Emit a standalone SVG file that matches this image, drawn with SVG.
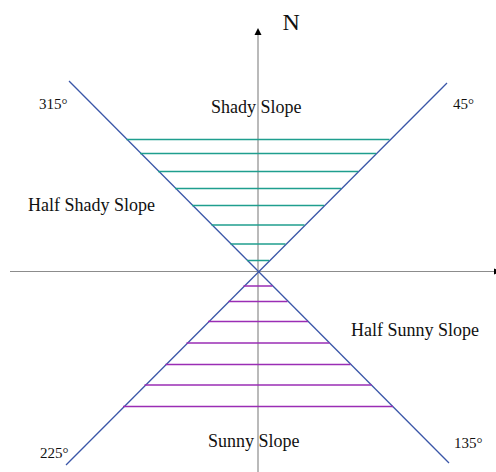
<svg xmlns="http://www.w3.org/2000/svg" width="496" height="472" viewBox="0 0 496 472">
<style>
.axis{stroke:#8c8c8c;stroke-width:1.2;fill:none}
.edge{stroke:#3a56a8;stroke-width:1.3;fill:none}
.shady line{stroke:#1f9e8e;stroke-width:1.5}
.sunny line{stroke:#9a2db5;stroke-width:1.5}
text{font-family:"Liberation Serif","Times New Roman",serif;fill:#111}
.lbl{font-size:18px}
.deg{font-size:15px}
</style>
<rect width="496" height="472" fill="#fff"/>
<g id="connectors">
<line class="axis" x1="258" y1="33" x2="258" y2="472"/>
<polygon points="258,28 254.5,35 261.5,35" fill="#000"/>
<line class="axis" x1="10" y1="271.5" x2="494" y2="271.5"/>
<polygon points="494,268.5 494,274.5 502,271.5" fill="#000"/>
<line class="edge" x1="69" y1="81" x2="449" y2="463"/>
<line class="edge" x1="447" y1="83" x2="66" y2="465"/>
</g>
<g id="shady-hatch" class="shady">
<line x1="126.5" y1="139.5" x2="389.5" y2="139.5"/>
<line x1="140" y1="153.5" x2="376" y2="153.5"/>
<line x1="158" y1="171.5" x2="358" y2="171.5"/>
<line x1="175" y1="188.5" x2="341" y2="188.5"/>
<line x1="192" y1="205.5" x2="324" y2="205.5"/>
<line x1="211.5" y1="225" x2="304.5" y2="225"/>
<line x1="230.5" y1="244" x2="285.5" y2="244"/>
<line x1="247" y1="260.5" x2="269" y2="260.5"/>
</g>
<g id="sunny-hatch" class="sunny">
<line x1="243.5" y1="286" x2="272.5" y2="286"/>
<line x1="228.5" y1="301.5" x2="287.5" y2="301.5"/>
<line x1="208" y1="321.5" x2="308" y2="321.5"/>
<line x1="186.5" y1="343" x2="329.5" y2="343"/>
<line x1="165.5" y1="364.5" x2="350.5" y2="364.5"/>
<line x1="144.5" y1="385" x2="371.5" y2="385"/>
<line x1="123" y1="406.5" x2="393" y2="406.5"/>
</g>
<g id="north"><text x="282.5" y="29.5" style="font-size:24px">N</text></g>
<g id="shady"><text class="lbl" x="211" y="113">Shady Slope</text></g>
<g id="half-shady"><text class="lbl" x="28" y="211">Half Shady Slope</text></g>
<g id="half-sunny"><text class="lbl" x="351" y="336">Half Sunny Slope</text></g>
<g id="sunny"><text class="lbl" x="208" y="447">Sunny Slope</text></g>
<g id="d315"><text class="deg" x="39" y="109">315°</text></g>
<g id="d45"><text class="deg" x="453" y="108.5">45°</text></g>
<g id="d225"><text class="deg" x="40" y="457.5">225°</text></g>
<g id="d135"><text class="deg" x="454" y="447.5">135°</text></g>
</svg>
